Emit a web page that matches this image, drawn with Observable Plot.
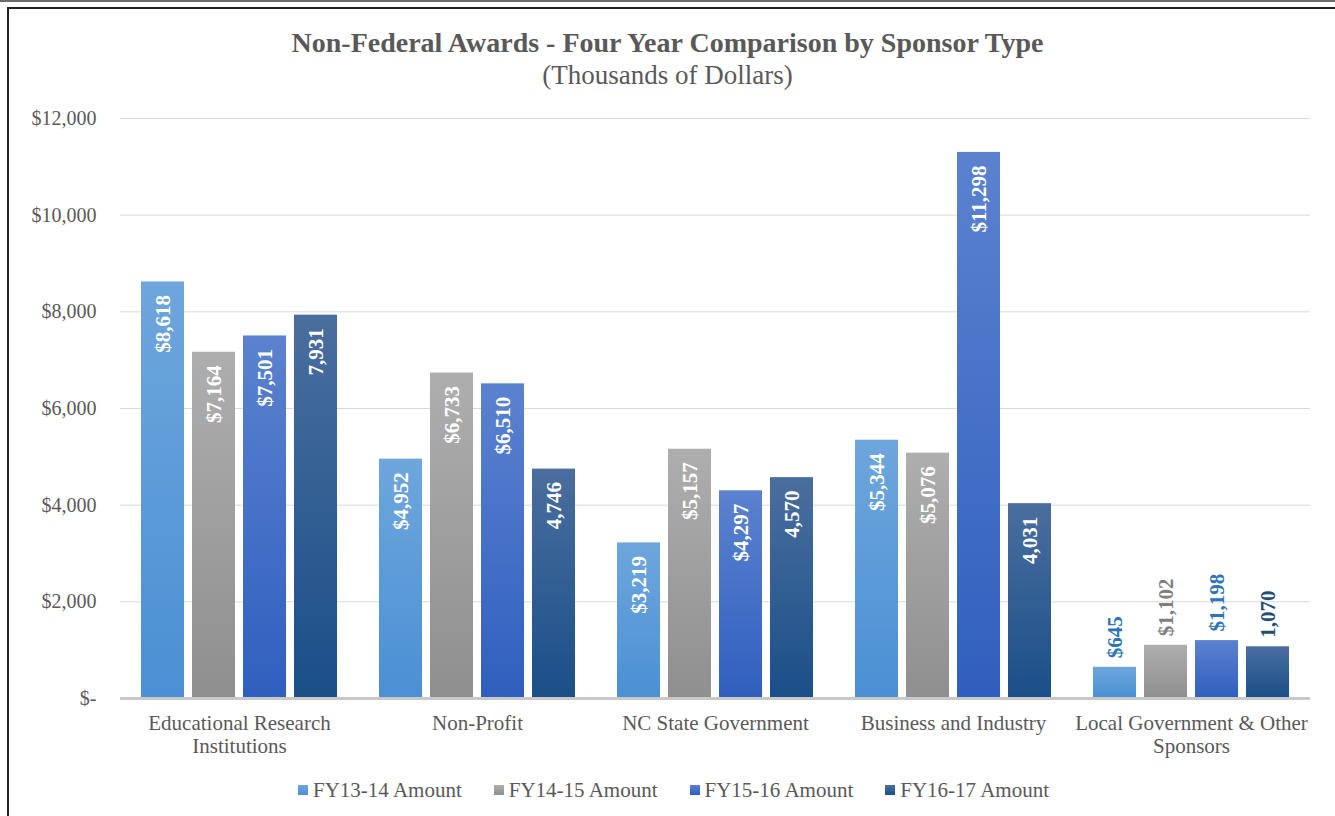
<!DOCTYPE html>
<html>
<head>
<meta charset="utf-8">
<script src="https://cdn.jsdelivr.net/npm/d3@7"></script>
<script src="https://cdn.jsdelivr.net/npm/@observablehq/plot@0.6"></script>
<style>
  html, body { margin: 0; padding: 0; background: #fff; width: 1335px; height: 816px; overflow: hidden; }
  body { position: relative; font-family: "Liberation Serif", "Times New Roman", serif; color: #595959; }
  #topline { position: absolute; left: 0; top: 0; width: 1335px; height: 2px; background: #6b6b6b; }
  #frame { position: absolute; left: 7px; top: 7px; width: 1340px; height: 820px; border-left: 2px solid #222; border-top: 2px solid #222; box-sizing: border-box; }
  #title { position: absolute; left: 0; width: 1335px; top: 27px; line-height: 32px; text-align: center; font-weight: bold; font-size: 28px; color: #595959; }
  #subtitle { position: absolute; left: 0; width: 1335px; top: 59px; line-height: 32px; text-align: center; font-size: 27px; color: #595959; }
  #chart { position: absolute; left: 0; top: 95px; }
  #legend { position: absolute; left: 0; width: 1335px; top: 778px; padding-left: 12px; box-sizing: border-box; line-height: 24px; display: flex; justify-content: center; font-size: 21px; color: #595959; }
  .item { display: flex; align-items: center; margin: 0 16px 0 16px; }
  .sw { width: 10px; height: 10px; margin-right: 5px; }
</style>
</head>
<body>
<div id="topline"></div>
<div id="frame"></div>
<div id="title">Non-Federal Awards - Four Year Comparison by Sponsor Type</div>
<div id="subtitle">(Thousands of Dollars)</div>
<div id="chart"></div>
<div id="legend"></div>
<script>
const categories = ["Educational Research\nInstitutions", "Non-Profit", "NC State Government", "Business and Industry", "Local Government & Other\nSponsors"];
const seriesNames = ["FY13-14 Amount", "FY14-15 Amount", "FY15-16 Amount", "FY16-17 Amount"];
const fy1314 = [8618, 4952, 3219, 5344, 645];
const fy1415 = [7164, 6733, 5157, 5076, 1102];
const fy1516 = [7501, 6510, 4297, 11298, 1198];
const fy1617 = [7931, 4746, 4570, 4031, 1070];
const yTicks = [0, 2000, 4000, 6000, 8000, 10000, 12000];
const outsideLabelColors = ["#2e75b6", "#7f7f7f", "#2e75b6", "#1f4e79"];
const gradients = [
  ["#6ea6dc", "#4a90d4"],
  ["#aeaeae", "#8f8f8f"],
  ["#5b82cf", "#2f5fbe"],
  ["#4a6e9e", "#1a4f88"]
];

const allSeries = [fy1314, fy1415, fy1516, fy1617];
const data = [];
categories.forEach((c, i) => {
  allSeries.forEach((s, j) => {
    data.push({category: c, series: seriesNames[j], value: s[i], idx: j});
  });
});
const fmt = d3.format(",");
const labelText = d => (d.idx === 3 ? "" : "$") + fmt(d.value);
const lastCat = categories[categories.length - 1];

const chart = Plot.plot({
  width: 1335,
  height: 680,
  marginLeft: 120,
  marginRight: 25,
  marginTop: 23,
  marginBottom: 77,
  style: { fontFamily: "Liberation Serif, Times New Roman, serif", color: "#595959", background: "transparent" },
  fx: { domain: categories, paddingInner: 0, paddingOuter: 0, label: null },
  x: { domain: seriesNames, paddingInner: 0.15, paddingOuter: 0.368, axis: null },
  y: { domain: [0, 12000], label: null },
  color: { domain: seriesNames, range: seriesNames.map((_, j) => `url(#grad${j})`) },
  marks: [
    Plot.gridY(yTicks, { stroke: "#d9d9d9", strokeOpacity: 1, strokeWidth: 1 }),
    Plot.axisY(yTicks, { tickSize: 0, tickPadding: 24, fontSize: 20, tickFormat: d => d === 0 ? "$-" : "$" + fmt(d), label: null }),
    Plot.barY(data, { fx: "category", x: "series", y: "value", fill: "series", style: "filter:url(#shadow)" }),
    Plot.ruleY([0], { stroke: "#c8c8c8", strokeWidth: 3 }),
    Plot.axisFx({ anchor: "bottom", tickSize: 0, tickPadding: 14, fontSize: 21, lineHeight: 1.14, label: null }),
    Plot.text(data.filter(d => d.category !== lastCat), {
      fx: "category", x: "series", y: "value", text: labelText,
      rotate: -90, textAnchor: "end", dy: 13, fill: "#ffffff", fontWeight: "bold", fontSize: 21
    }),
    Plot.text(data.filter(d => d.category === lastCat), {
      fx: "category", x: "series", y: "value", text: labelText,
      rotate: -90, textAnchor: "start", dy: -9, fill: d => outsideLabelColors[d.idx], fontWeight: "bold", fontSize: 21
    })
  ]
});

const defs = `<defs>
  ${gradients.map((g, j) => `<linearGradient id="grad${j}" x1="0" y1="0" x2="0" y2="1"><stop offset="0" stop-color="${g[0]}"/><stop offset="1" stop-color="${g[1]}"/></linearGradient>`).join("")}
  <filter id="shadow" x="-20%" y="-5%" width="140%" height="110%">
    <feDropShadow dx="0" dy="0" stdDeviation="2.2" flood-color="#000" flood-opacity="0.28"/>
  </filter>
</defs>`;
chart.insertAdjacentHTML("afterbegin", defs);
document.getElementById("chart").appendChild(chart);

const legend = document.getElementById("legend");
seriesNames.forEach((s, j) => {
  const it = document.createElement("div");
  it.className = "item";
  it.innerHTML = `<div class="sw" style="background:linear-gradient(${gradients[j][0]},${gradients[j][1]})"></div><span>${s}</span>`;
  legend.appendChild(it);
});
</script>
</body>
</html>
